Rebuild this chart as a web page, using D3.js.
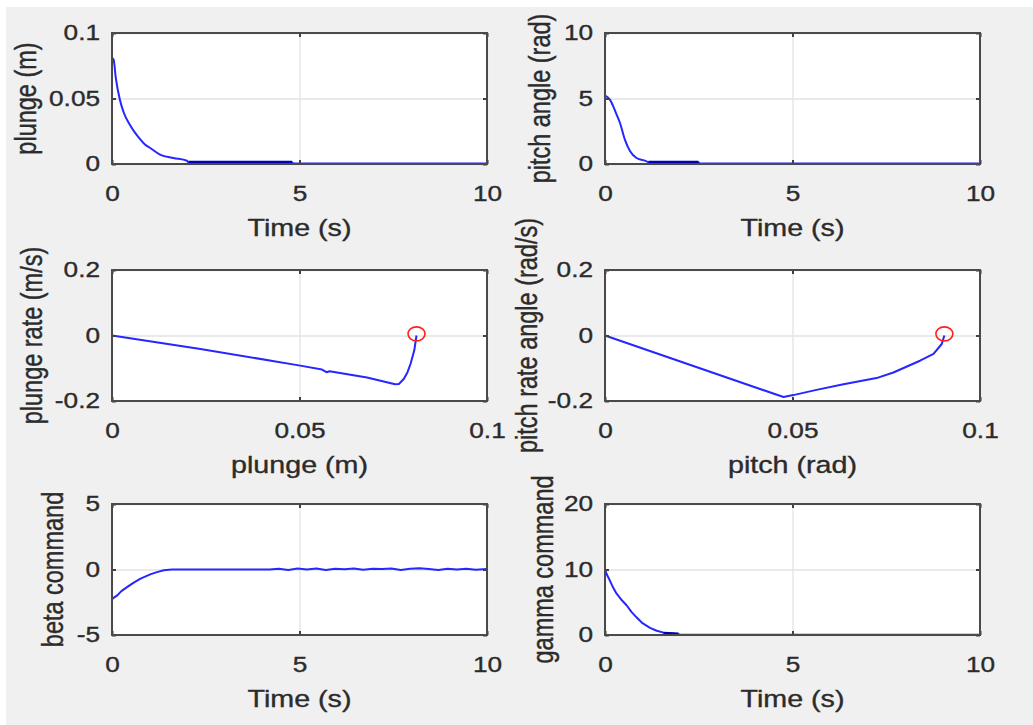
<!DOCTYPE html>
<html>
<head>
<meta charset="utf-8">
<script src="https://cdn.jsdelivr.net/npm/d3@7"></script>
<style>
body { margin: 0; background: #fff; }
text { font-family: "Liberation Sans", Arial, sans-serif; fill: #2b2b2b; stroke: #2b2b2b; stroke-width: 0.35; }
</style>
</head>
<body>
<svg id="fig" width="1033" height="725"></svg>
<script>
// plunge vs time
var plungeT = [0, 0.044, 0.1, 0.21, 0.31, 0.48, 0.76, 0.88, 1.02, 1.28, 1.64, 2.0, 2.04, 4.8, 4.84, 10];
var plungeV = [0.081, 0.0795, 0.066, 0.049, 0.0395, 0.0298, 0.0186, 0.0148, 0.0122, 0.0072, 0.0046, 0.0025, 0.0013, 0.0013, 0.0003, 0.0003];
var plungeDenseT = [2.04, 4.8];
var plungeDenseV = [0.0013, 0.0013];

// pitch angle vs time
var pitchT = [0, 0.04, 0.13, 0.22, 0.31, 0.4, 0.53, 0.67, 0.84, 1.11, 1.16, 2.49, 2.53, 10];
var pitchV = [5.2, 5.17, 4.91, 4.40, 3.77, 3.13, 1.86, 0.97, 0.46, 0.2, 0.13, 0.13, 0.03, 0.03];
var pitchDenseT = [1.16, 2.49];
var pitchDenseV = [0.13, 0.13];

// plunge rate vs plunge
var plungePhaseX = [0, 0.0236, 0.0502, 0.056, 0.0572, 0.058, 0.068, 0.0755, 0.0765, 0.0778, 0.0788, 0.0796, 0.0806, 0.0812];
var plungePhaseY = [0, -0.041, -0.092, -0.104, -0.112, -0.109, -0.128, -0.149, -0.148, -0.133, -0.112, -0.087, -0.046, 0];
var plungeStart = [0.0812, 0.005];

// pitch rate vs pitch
var pitchPhaseX = [0, 0.0476, 0.0502, 0.0564, 0.0636, 0.0724, 0.0769, 0.084, 0.0876, 0.0898, 0.0905];
var pitchPhaseY = [0, -0.188, -0.182, -0.166, -0.149, -0.130, -0.113, -0.077, -0.056, -0.026, 0];
var pitchStart = [0.0905, 0.005];

// beta command vs time
var betaT = [0, 0, 0.05, 0.13, 0.25, 0.4, 0.58, 0.76, 1.02, 1.2, 1.38, 1.6, 4.2, 4.45, 4.7, 4.95, 5.2, 5.45, 5.7, 5.95, 6.2, 6.45, 6.7, 6.95, 7.2, 7.45, 7.7, 7.95, 8.2, 8.45, 8.7, 8.95, 9.2, 9.45, 9.7, 10];
var betaV = [0, -2.26, -2.15, -2.0, -1.65, -1.35, -1.0, -0.7, -0.37, -0.2, -0.06, 0, 0, 0.06, -0.04, 0.07, 0.0, 0.08, -0.03, 0.06, 0.02, 0.08, -0.02, 0.05, 0.03, 0.07, -0.04, 0.06, 0.1, 0.04, -0.03, 0.06, 0.0, 0.05, -0.02, 0.04];

// gamma command vs time
var gammaT = [0, 0, 0.04, 0.13, 0.22, 0.31, 0.45, 0.58, 0.71, 0.84, 1.0, 1.2, 1.38, 1.56, 1.96, 2.0, 10];
var gammaV = [0, 10.1, 9.36, 8.3, 7.2, 6.3, 5.3, 4.5, 3.5, 2.7, 1.8, 1.1, 0.65, 0.36, 0.1, 0.05, 0.05];
var gammaDenseT = [1.56, 1.96];
var gammaDenseV = [0.25, 0.15];

// tick values + labels
var timeTicks = [0, 5, 10], timeLabels = ["0", "5", "10"];
var rangeTicks = [0, 0.05, 0.1], rangeLabels = ["0", "0.05", "0.1"];
var rateTicks = [-0.2, 0, 0.2], rateLabels = ["-0.2", "0", "0.2"];
var pitchTicks = [0, 5, 10], pitchLabels = ["0", "5", "10"];
var betaTicks = [-5, 0, 5], betaLabels = ["-5", "0", "5"];
var gammaTicks = [0, 10, 20], gammaLabels = ["0", "10", "20"];

var zip = function(a, b) { return a.map(function(v, i) { return [v, b[i]]; }); };

var colX = [112, 605], rowY = [33, 270, 504];
var W = 375, H = 131;
var sx = 1.22; // text is stretched sideways in the picture

var panels = [
  {c: 0, r: 0, xd: [0, 10], yd: [0, 0.1], xt: timeTicks, xl: timeLabels, yt: rangeTicks, yl: rangeLabels, smooth: true,
   xlab: "Time (s)", ylab: "plunge (m)", ylx: 36, line: zip(plungeT, plungeV), dense: zip(plungeDenseT, plungeDenseV)},
  {c: 1, r: 0, xd: [0, 10], yd: [0, 10], xt: timeTicks, xl: timeLabels, yt: pitchTicks, yl: pitchLabels, smooth: true,
   xlab: "Time (s)", ylab: "pitch angle (rad)", ylx: 550, line: zip(pitchT, pitchV), dense: zip(pitchDenseT, pitchDenseV)},
  {c: 0, r: 1, xd: [0, 0.1], yd: [-0.2, 0.2], xt: rangeTicks, xl: rangeLabels, yt: rateTicks, yl: rateLabels,
   xlab: "plunge (m)", ylab: "plunge rate (m/s)", ylx: 42, line: zip(plungePhaseX, plungePhaseY), marker: plungeStart},
  {c: 1, r: 1, xd: [0, 0.1], yd: [-0.2, 0.2], xt: rangeTicks, xl: rangeLabels, yt: rateTicks, yl: rateLabels,
   xlab: "pitch (rad)", ylab: "pitch rate angle (rad/s)", ylx: 537, line: zip(pitchPhaseX, pitchPhaseY), marker: pitchStart},
  {c: 0, r: 2, xd: [0, 10], yd: [-5, 5], xt: timeTicks, xl: timeLabels, yt: betaTicks, yl: betaLabels,
   xlab: "Time (s)", ylab: "beta command", ylx: 63, line: zip(betaT, betaV)},
  {c: 1, r: 2, xd: [0, 10], yd: [0, 20], xt: timeTicks, xl: timeLabels, yt: gammaTicks, yl: gammaLabels,
   xlab: "Time (s)", ylab: "gamma command", ylx: 553, line: zip(gammaT, gammaV), dense: zip(gammaDenseT, gammaDenseV)}
];

var svg = d3.select("#fig");

// figure background
svg.append("rect").attr("x", 6).attr("y", 7).attr("width", 1027).attr("height", 718).attr("fill", "#f0f0f0");

panels.forEach(function(p, i) {
  var left = colX[p.c], top = rowY[p.r];
  var x = d3.scaleLinear().domain(p.xd).range([0, W]);
  var y = d3.scaleLinear().domain(p.yd).range([H, 0]);

  var g = svg.append("g").attr("transform", "translate(" + left + "," + top + ")");

  g.append("rect").attr("width", W).attr("height", H).attr("fill", "#fff");

  // grid
  g.append("g").attr("transform", "translate(0," + H + ")")
    .call(d3.axisBottom(x).tickValues(p.xt).tickSize(-H).tickFormat(""))
    .call(function(a) { a.select(".domain").remove(); a.selectAll("line").attr("stroke", "#e3e3e3").attr("stroke-width", 1.3); });
  g.append("g")
    .call(d3.axisLeft(y).tickValues(p.yt).tickSize(-W).tickFormat(""))
    .call(function(a) { a.select(".domain").remove(); a.selectAll("line").attr("stroke", "#e3e3e3").attr("stroke-width", 1.3); });

  // data
  var clipId = "clip" + i;
  g.append("clipPath").attr("id", clipId).append("rect").attr("x", -2).attr("width", W + 4).attr("height", H);
  var line = d3.line().x(function(d) { return x(d[0]); }).y(function(d) { return y(d[1]); });
  if (p.smooth) line.curve(d3.curveMonotoneX);
  var plot = g.append("g").attr("clip-path", "url(#" + clipId + ")");
  plot.append("path").datum(p.line).attr("d", line)
    .attr("fill", "none").attr("stroke", "#2626ff").attr("stroke-width", 2).attr("stroke-linejoin", "round");
  if (p.dense) {
    plot.append("path").datum(p.dense).attr("d", line)
      .attr("fill", "none").attr("stroke", "#0000b8").attr("stroke-width", 3);
  }
  if (p.marker) {
    g.append("ellipse").attr("cx", x(p.marker[0])).attr("cy", y(p.marker[1]))
      .attr("rx", 8.5).attr("ry", 7).attr("fill", "none").attr("stroke", "#ff2020").attr("stroke-width", 1.6);
  }

  // inward ticks all round
  var tk = function(a) { a.select(".domain").remove(); a.selectAll("line").attr("stroke", "#404040").attr("stroke-width", 2); };
  var bottom = g.append("g").attr("transform", "translate(0," + H + ")")
    .call(d3.axisBottom(x).tickValues(p.xt).tickSizeInner(-4).tickSizeOuter(0).tickPadding(22)
      .tickFormat(function(d, j) { return p.xl[j]; }))
    .call(tk);
  g.append("g").call(d3.axisTop(x).tickValues(p.xt).tickSizeInner(-4).tickFormat("")).call(tk);
  var leftAx = g.append("g")
    .call(d3.axisLeft(y).tickValues(p.yt).tickSizeInner(-4).tickSizeOuter(0).tickPadding(9.8)
      .tickFormat(function(d, j) { return p.yl[j]; }))
    .call(tk);
  g.append("g").attr("transform", "translate(" + W + ",0)")
    .call(d3.axisRight(y).tickValues(p.yt).tickSizeInner(-4).tickFormat("")).call(tk);

  [bottom, leftAx].forEach(function(a) {
    a.selectAll("text").attr("font-size", 21.5).attr("fill", "#2b2b2b")
      .attr("font-family", "Liberation Sans, Arial, sans-serif")
      .attr("transform", "scale(" + sx + ",1)");
  });

  // box
  g.append("rect").attr("width", W).attr("height", H).attr("fill", "none")
    .attr("stroke", "#4a4a4a").attr("stroke-width", 2);

  // axis labels
  svg.append("text")
    .attr("transform", "translate(" + (left + W / 2) + "," + (top + H + 72) + ") scale(" + sx + ",1)")
    .attr("text-anchor", "middle").attr("font-size", 23.5).text(p.xlab);
  svg.append("text")
    .attr("transform", "translate(" + p.ylx + "," + (top + H / 2) + ") scale(" + sx + ",1) rotate(-90)")
    .attr("text-anchor", "middle").attr("font-size", 23.5).text(p.ylab);
});
</script>
</body>
</html>
